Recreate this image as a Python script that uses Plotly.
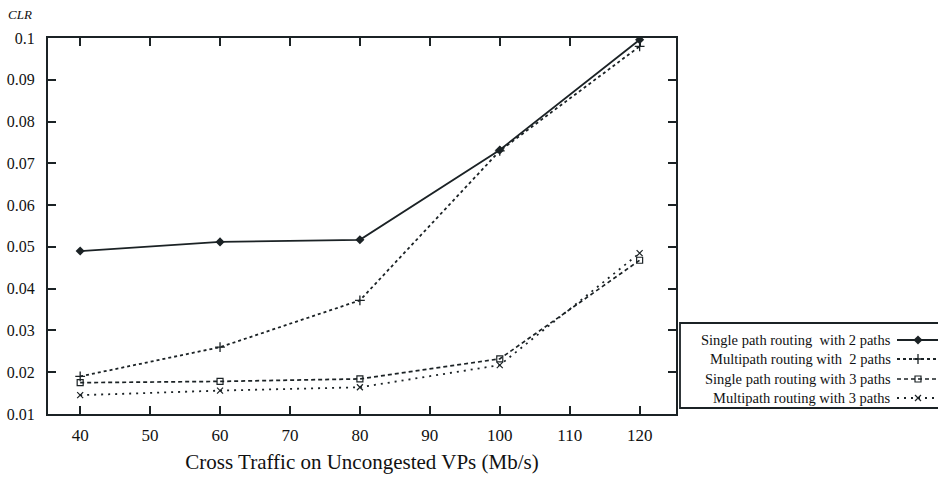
import plotly.graph_objects as go

# ---- data ----
x_traffic = [40, 60, 80, 100, 120]
single_2 = [0.049, 0.0512, 0.0517, 0.0732, 0.0996]
multi_2 = [0.0190, 0.0260, 0.0372, 0.0730, 0.0980]
single_3 = [0.0175, 0.0178, 0.0184, 0.0232, 0.0468]
multi_3 = [0.0145, 0.0156, 0.0164, 0.0217, 0.0485]
series_names = ["Single path routing\u00a0 with 2 paths",
                "Multipath routing with\u00a0 2 paths",
                "Single path routing with 3 paths",
                "Multipath routing with 3 paths"]
y_ticks = [0.01, 0.02, 0.03, 0.04, 0.05, 0.06, 0.07, 0.08, 0.09, 0.1]
y_tick_text = ["0.01", "0.02", "0.03", "0.04", "0.05", "0.06", "0.07", "0.08", "0.09", "0.1"]
x_ticks = [40, 50, 60, 70, 80, 90, 100, 110, 120]

INK = "#1b2225"
FONT = "Liberation Serif, Times New Roman, serif"

styles = [
    dict(line=dict(color=INK, width=1.8, dash="solid"),
         marker=dict(symbol="diamond", size=7, color=INK)),
    dict(line=dict(color=INK, width=1.8, dash="dot"),
         marker=dict(symbol="cross-thin", size=7, color=INK, line=dict(color=INK, width=1.3))),
    dict(line=dict(color=INK, width=1.7, dash="4px,3px"),
         marker=dict(symbol="square-open", size=6, color=INK, line=dict(color=INK, width=1.2))),
    dict(line=dict(color=INK, width=1.8, dash="2px,5px"),
         marker=dict(symbol="x-thin", size=6, color=INK, line=dict(color=INK, width=1.2))),
]
all_series = [single_2, multi_2, single_3, multi_3]

fig = go.Figure()
for name, ys, st in zip(series_names, all_series, styles):
    fig.add_trace(go.Scatter(x=x_traffic, y=ys, mode="lines+markers", name=name,
                             line=st["line"], marker=st["marker"], showlegend=False,
                             xaxis="x", yaxis="y"))

# ---- legend drawn in pixel-coordinate overlay axes ----
W, H = 938, 480
ML, MT, MB = 48, 38, 66
plot_right = 676
paper_w = W - ML
main_frac = (plot_right - ML) / paper_w

leg_left, leg_top, leg_bottom = 680, 323, 408
row_y = [340, 359, 379, 398]
sample_x0, sample_x1, marker_x = 897, 940, 918
text_right = 893

for name, yrow, st in zip(series_names, row_y, styles):
    fig.add_trace(go.Scatter(x=[sample_x0, sample_x1], y=[yrow, yrow], mode="lines",
                             line=st["line"], showlegend=False, hoverinfo="skip",
                             xaxis="x2", yaxis="y2"))
    fig.add_trace(go.Scatter(x=[marker_x], y=[yrow], mode="markers",
                             marker=st["marker"], showlegend=False, hoverinfo="skip",
                             xaxis="x2", yaxis="y2"))
    fig.add_annotation(x=text_right, y=yrow, xref="x2", yref="y2", text=name,
                       showarrow=False, xanchor="right", yanchor="middle",
                       font=dict(family=FONT, size=14.5, color="#111"))

fig.add_shape(type="rect", xref="x2", yref="y2", x0=leg_left, x1=W + 5,
              y0=leg_top, y1=leg_bottom, line=dict(color=INK, width=1.8))

fig.add_annotation(x=(20 - ML) / paper_w, y=(H - MB - 15) / (H - MB - MT),
                   xref="paper", yref="paper", text="<i>CLR</i>", showarrow=False,
                   xanchor="center", yanchor="middle",
                   font=dict(family=FONT, size=13, color="#111"))

axis_common = dict(showline=True, linecolor=INK, linewidth=1.9, mirror="allticks",
                   ticks="inside", ticklen=8, tickwidth=1.5, tickcolor=INK,
                   showgrid=False, zeroline=False)

fig.update_layout(
    width=W, height=H,
    margin=dict(l=ML, r=0, t=MT, b=MB),
    paper_bgcolor="white", plot_bgcolor="rgba(0,0,0,0)",
    font=dict(family=FONT, color="#111"),
    xaxis=dict(domain=[0, main_frac], range=[35.4, 125.2], tickvals=x_ticks,
               tickfont=dict(family=FONT, size=17), ticklabelstandoff=5,
               title=dict(text="Cross Traffic on Uncongested VPs (Mb/s)",
                          font=dict(family=FONT, size=21), standoff=10),
               **axis_common),
    yaxis=dict(range=[0.01, 0.1], tickvals=y_ticks, ticktext=y_tick_text,
               tickfont=dict(family=FONT, size=16), ticklabelstandoff=8,
               **axis_common),
    xaxis2=dict(domain=[0, 1], range=[ML, W], visible=False, anchor="y2"),
    yaxis2=dict(domain=[0, 1], range=[H - MB, MT], visible=False, anchor="x2"),
)

fig.write_html("out.html")
